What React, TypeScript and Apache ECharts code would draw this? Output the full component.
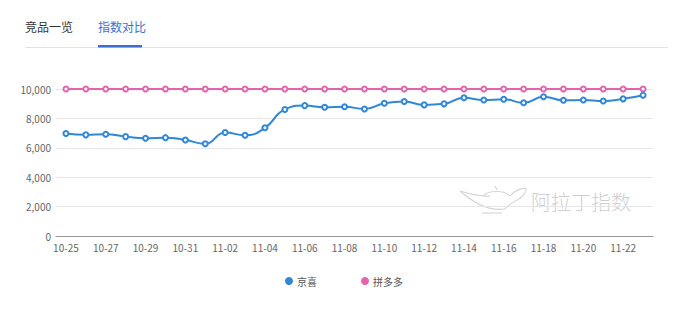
import React, { useEffect, useRef } from "react";
import * as echarts from "echarts";

const categories = [
  "10-25", "10-26", "10-27", "10-28", "10-29", "10-30", "10-31",
  "11-01", "11-02", "11-03", "11-04", "11-05", "11-06", "11-07", "11-08",
  "11-09", "11-10", "11-11", "11-12", "11-13", "11-14", "11-15", "11-16",
  "11-17", "11-18", "11-19", "11-20", "11-21", "11-22", "11-23",
];
const jingxi = [
  6970, 6880, 6920, 6760, 6650, 6690, 6530, 6270, 7040, 6850, 7360, 8610,
  8870, 8760, 8790, 8640, 9030, 9150, 8920, 8990, 9400, 9250, 9300, 9060,
  9470, 9230, 9250, 9180, 9330, 9580,
];
const pinduoduo = [
  10000, 10000, 10000, 10000, 10000, 10000, 10000, 10000, 10000, 10000,
  10000, 10000, 10000, 10000, 10000, 10000, 10000, 10000, 10000, 10000,
  10000, 10000, 10000, 10000, 10000, 10000, 10000, 10000, 10000, 10000,
];
const seriesNames = ["京喜", "拼多多"];
const tabs = ["竞品一览", "指数对比"];
const watermarkText = "阿拉丁指数";

const FONT = "'Noto Sans CJK SC', 'Noto Sans', sans-serif";
const LAMP = "#d4d4d4";

export default function App() {
  const ref = useRef<HTMLDivElement>(null);
  useEffect(() => {
    if (!ref.current) return;
    const chart = echarts.init(ref.current, null, { renderer: "svg" });
    const lampStyle = { stroke: LAMP, lineWidth: 1.1, fill: "transparent" };
    chart.setOption({
      animation: false,
      backgroundColor: "#ffffff",
      textStyle: { fontFamily: FONT },
      grid: { left: 56, right: 40, top: 89, bottom: 78 },
      legend: {
        data: seriesNames,
        left: 280,
        top: 271,
        icon: "circle",
        itemWidth: 6,
        itemHeight: 6,
        itemGap: 44,
        textStyle: { fontSize: 10, color: "#555", fontFamily: FONT },
      },
      graphic: [
        {
          type: "text",
          left: 25,
          top: 20,
          style: { text: tabs[0], fontSize: 12, fill: "#333", fontFamily: FONT },
        },
        {
          type: "text",
          left: 98,
          top: 20,
          style: { text: tabs[1], fontSize: 12, fill: "#3b6fd6", fontFamily: FONT },
        },
        {
          type: "line",
          shape: { x1: 25, y1: 47.5, x2: 668, y2: 47.5 },
          style: { stroke: "#e3e3e3", lineWidth: 1 },
        },
        {
          type: "rect",
          shape: { x: 98, y: 45, width: 44, height: 2.5 },
          style: { fill: "#3b6fd6" },
        },
        {
          type: "bezierCurve",
          silent: true,
          shape: { x1: 460, y1: 191, x2: 505, y2: 209, cpx1: 476, cpy1: 205, cpx2: 492, cpy2: 211 },
          style: lampStyle,
        },
        {
          type: "bezierCurve",
          silent: true,
          shape: { x1: 460, y1: 191, x2: 490, y2: 196, cpx1: 470, cpy1: 194, cpx2: 480, cpy2: 197 },
          style: lampStyle,
        },
        {
          type: "bezierCurve",
          silent: true,
          shape: { x1: 483, y1: 196, x2: 510, y2: 196, cpx1: 488, cpy1: 190, cpx2: 505, cpy2: 190 },
          style: lampStyle,
        },
        {
          type: "bezierCurve",
          silent: true,
          shape: { x1: 510, y1: 196, x2: 526, y2: 190, cpx1: 516, cpy1: 189, cpx2: 528, cpy2: 186 },
          style: lampStyle,
        },
        {
          type: "bezierCurve",
          silent: true,
          shape: { x1: 526, y1: 190, x2: 505, y2: 209, cpx1: 524, cpy1: 200, cpx2: 512, cpy2: 200 },
          style: lampStyle,
        },
        {
          type: "line",
          silent: true,
          shape: { x1: 495, y1: 186, x2: 497, y2: 190 },
          style: lampStyle,
        },
        {
          type: "line",
          silent: true,
          shape: { x1: 482, y1: 213, x2: 502, y2: 213 },
          style: lampStyle,
        },
        {
          type: "text",
          silent: true,
          left: 531,
          top: 191,
          style: {
            text: watermarkText,
            fontSize: 20,
            fontWeight: 300,
            fill: "#cfcfcf",
            fontFamily: FONT,
          },
        },
      ],
      xAxis: {
        type: "category",
        data: categories,
        boundaryGap: true,
        axisLine: { lineStyle: { color: "#999", width: 1 } },
        axisTick: {
          alignWithLabel: true,
          length: 3,
          interval: (i: number) => i % 2 === 1,
          lineStyle: { color: "#888" },
        },
        axisLabel: {
          interval: 1,
          fontSize: 10,
          color: "#666",
          margin: 6,
          fontFamily: FONT,
        },
      },
      yAxis: {
        type: "value",
        min: 0,
        max: 10000,
        interval: 2000,
        axisLine: { show: false },
        axisTick: { show: false },
        axisLabel: {
          fontSize: 10,
          color: "#666",
          margin: 5,
          fontFamily: FONT,
          formatter: (v: number) => v.toLocaleString("en-US"),
        },
        splitLine: { lineStyle: { color: "#e6e6e6" } },
      },
      series: [
        {
          name: seriesNames[0],
          type: "line",
          data: jingxi,
          smooth: true,
          symbol: "emptyCircle",
          symbolSize: 5,
          showSymbol: true,
          color: "#2f87d9",
          lineStyle: { width: 2, color: "#2f87d9" },
          itemStyle: { color: "#2f87d9", borderColor: "#2f87d9", borderWidth: 1 },
          z: 3,
        },
        {
          name: seriesNames[1],
          type: "line",
          data: pinduoduo,
          smooth: true,
          symbol: "emptyCircle",
          symbolSize: 5,
          showSymbol: true,
          color: "#e563ad",
          lineStyle: { width: 2, color: "#e563ad" },
          itemStyle: { color: "#e563ad", borderColor: "#e563ad", borderWidth: 1 },
          z: 2,
        },
      ],
    });
    return () => chart.dispose();
  }, []);
  return (
    <div
      ref={ref}
      style={{ position: "fixed", left: 0, top: 0, width: 693, height: 314, background: "#fff" }}
    />
  );
}
